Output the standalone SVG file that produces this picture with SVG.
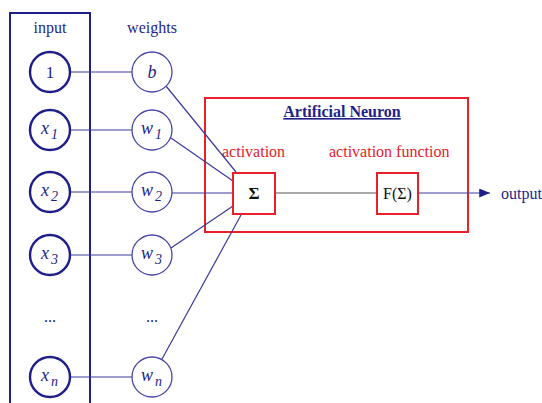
<svg xmlns="http://www.w3.org/2000/svg" width="542" height="403" viewBox="0 0 542 403">
<defs>
<style>
text{font-family:"Liberation Serif","Times New Roman",serif;}
.lbl{font-size:16px;fill:#1f1f8a;text-anchor:middle;}
.in{fill:#fff;stroke:#1f1f8a;stroke-width:2.4;}
.wt{fill:#fff;stroke:#4646a6;stroke-width:1.3;}
.var{font-size:18px;font-style:italic;fill:#1f1f8a;}
.sub{font-size:14px;}
.red{font-size:16px;fill:#e8202a;}
.rbox{fill:#fff;stroke:#e8202a;stroke-width:2;}
.edge{stroke:#3a3aa0;stroke-width:1.2;fill:none;}
</style>
<marker id="arrow" viewBox="0 0 12 10" refX="12" refY="5" markerWidth="12" markerHeight="9" markerUnits="userSpaceOnUse" orient="auto">
<path d="M0,0 L12,5 L0,10 z" fill="#1f1f8a"/>
</marker>
</defs>
<rect width="542" height="403" fill="#fff"/>

<!-- input column frame -->
<g id="input-frame">
<rect x="10" y="13" width="80" height="400" fill="none" stroke="#1f1f8a" stroke-width="2"/>
<text class="lbl" x="50" y="33">input</text>
<text class="lbl" x="152" y="33">weights</text>
</g>

<!-- neuron frame -->
<g id="neuron">
<rect class="rbox" x="205" y="98" width="263" height="134"/>
<text x="342" y="117" font-size="16" font-weight="bold" fill="#1f1f8a" text-anchor="middle" text-decoration="underline">Artificial Neuron</text>
<text class="red" x="222" y="157">activation</text>
<text class="red" x="329" y="157">activation function</text>
</g>

<!-- connectors -->
<g id="connectors">
<line class="edge" x1="71" y1="72" x2="132" y2="72"/>
<line class="edge" x1="71" y1="130" x2="132" y2="130"/>
<line class="edge" x1="71" y1="192" x2="132" y2="192"/>
<line class="edge" x1="71" y1="255" x2="132" y2="255"/>
<line class="edge" x1="71" y1="377" x2="132" y2="377"/>
<line class="edge" x1="166" y1="86" x2="236" y2="172"/>
<line class="edge" x1="171" y1="138" x2="233" y2="181"/>
<line class="edge" x1="172" y1="193" x2="233" y2="193"/>
<line class="edge" x1="171" y1="248" x2="233" y2="206"/>
<line class="edge" x1="162" y1="359" x2="241" y2="215"/>
<line x1="275" y1="193" x2="377" y2="193" stroke="#555" stroke-width="1.2"/>
<line class="edge" x1="418" y1="193" x2="490" y2="193" marker-end="url(#arrow)"/>
</g>

<g id="sum">
<rect class="rbox" x="233" y="173" width="42" height="41"/>
<text x="254" y="199" font-size="17" font-weight="bold" fill="#111" text-anchor="middle">Σ</text>
</g>
<g id="activation-fn">
<rect class="rbox" x="377" y="173" width="41" height="41"/>
<text x="397.5" y="199" font-size="16" fill="#111" text-anchor="middle">F(Σ)</text>
</g>
<g id="output">
<text x="501" y="199" font-size="16" fill="#1f1f8a">output</text>
</g>

<!-- inputs -->
<g id="in-1"><circle class="in" cx="50" cy="72" r="20"/><text x="50" y="78" font-size="17" fill="#1f1f8a" text-anchor="middle">1</text></g>
<g id="in-x1"><circle class="in" cx="50" cy="130" r="20"/><text class="var" x="41" y="134">x<tspan class="sub" dx="2" dy="5">1</tspan></text></g>
<g id="in-x2"><circle class="in" cx="50" cy="192" r="20"/><text class="var" x="41" y="196">x<tspan class="sub" dx="2" dy="5">2</tspan></text></g>
<g id="in-x3"><circle class="in" cx="50" cy="255" r="20"/><text class="var" x="41" y="259">x<tspan class="sub" dx="2" dy="5">3</tspan></text></g>
<g id="in-dots"><text class="lbl" x="50" y="322">...</text></g>
<g id="in-xn"><circle class="in" cx="50" cy="377" r="20"/><text class="var" x="41" y="381">x<tspan class="sub" dx="2" dy="5">n</tspan></text></g>

<!-- weights -->
<g id="w-b"><circle class="wt" cx="152" cy="72" r="20"/><text class="var" x="152" y="78" text-anchor="middle">b</text></g>
<g id="w-1"><circle class="wt" cx="152" cy="130" r="20"/><text class="var" x="141" y="134">w<tspan class="sub" dx="2" dy="5">1</tspan></text></g>
<g id="w-2"><circle class="wt" cx="152" cy="192" r="20"/><text class="var" x="141" y="196">w<tspan class="sub" dx="2" dy="5">2</tspan></text></g>
<g id="w-3"><circle class="wt" cx="152" cy="255" r="20"/><text class="var" x="141" y="259">w<tspan class="sub" dx="2" dy="5">3</tspan></text></g>
<g id="w-dots"><text class="lbl" x="152" y="322">...</text></g>
<g id="w-n"><circle class="wt" cx="152" cy="377" r="20"/><text class="var" x="141" y="381">w<tspan class="sub" dx="2" dy="5">n</tspan></text></g>
</svg>
